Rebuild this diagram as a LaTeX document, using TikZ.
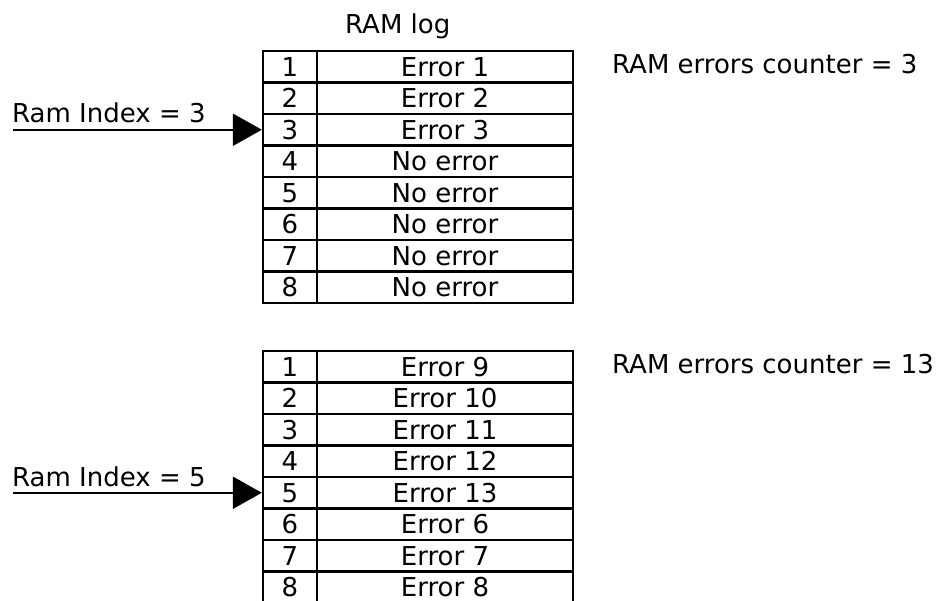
\documentclass[tikz,border=0pt]{standalone}
\usepackage{fontspec}
\setmainfont{DejaVu Sans}
\usetikzlibrary{arrows.meta}
\tikzset{
  cellbox/.style={draw=black, line width=2.4pt, inner sep=0pt, minimum height=31.5pt, font=\fontsize{26}{30}\selectfont},
  numcell/.style={cellbox, minimum width=54pt},
  errcell/.style={cellbox, minimum width=256pt},
  lbl/.style={inner sep=0pt, anchor=base west, font=\fontsize{26}{30}\selectfont},
  ptr/.style={line width=2.2pt, -{Triangle[length=29pt,width=32pt]}}
}
\begin{document}
\begin{tikzpicture}[x=1pt,y=-1pt]
\useasboundingbox (0,0) rectangle (944,600);
\clip (0,0) rectangle (944,600);
\fill[white] (0,0) rectangle (944,600);
% title
\node[lbl] (title) at (345,33) {RAM log};
% table 1
\foreach \i/\t in {1/Error 1,2/Error 2,3/Error 3,4/No error,5/No error,6/No error,7/No error,8/No error}{
  \node[numcell] (a\i) at (290,{51+31.5*(\i-0.5)}) {\i};
  \node[errcell] (ae\i) at (445,{51+31.5*(\i-0.5)}) {\t};
}
% table 2
\foreach \i/\t in {1/Error 9,2/Error 10,3/Error 11,4/Error 12,5/Error 13,6/Error 6,7/Error 7,8/Error 8}{
  \node[numcell] (b\i) at (290,{351+31.5*(\i-0.5)}) {\i};
  \node[errcell] (be\i) at (445,{351+31.5*(\i-0.5)}) {\t};
}
% counters
\node[lbl] (c1) at (612,73) {RAM errors counter = 3};
\node[lbl] (c2) at (612,373) {RAM errors counter = 13};
% pointers
\node[lbl] (p1) at (12,122) {Ram Index = 3};
\node[lbl] (p2) at (12,486) {Ram Index = 5};
\coordinate (s1) at (13,{51+31.5*2.5});
\coordinate (s2) at (13,{351+31.5*4.5});
\draw[ptr] (s1) -- (a3.west);
\draw[ptr] (s2) -- (b5.west);
\end{tikzpicture}
\end{document}
